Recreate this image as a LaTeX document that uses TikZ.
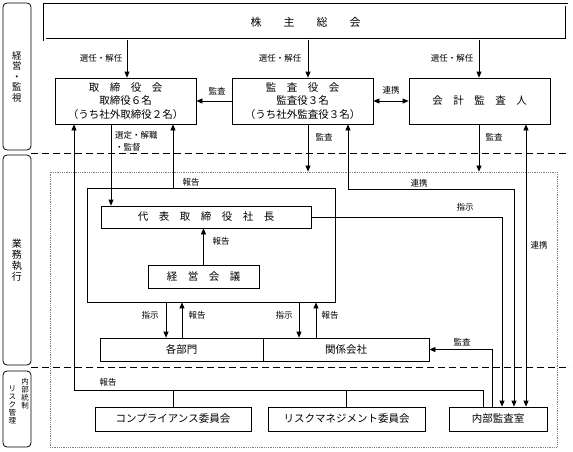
\documentclass[tikz,border=0pt]{standalone}
\usepackage{fontspec}
\setmainfont{Noto Sans CJK JP}
\usetikzlibrary{arrows.meta, positioning}

\tikzset{
  box/.style={draw, rectangle, line width=0.7pt, inner sep=0pt, align=center, font=\fontsize{10.5}{13.5}\selectfont},
  side/.style={draw, rectangle, rounded corners=4pt, line width=0.8pt, inner sep=0pt, align=center, font=\fontsize{9.5}{10.5}\selectfont},
  lbl/.style={inner sep=0pt, font=\fontsize{8.5}{12}\selectfont},
  arr/.style={-{Triangle[length=6pt,width=5pt]}, line width=0.7pt},
  darr/.style={{Triangle[length=6pt,width=5pt]}-{Triangle[length=6pt,width=5pt]}, line width=0.7pt},
  ln/.style={line width=0.7pt},
  sepline/.style={dash pattern=on 7pt off 4pt, line width=0.7pt}
}

\begin{document}
\begin{tikzpicture}[x=1pt, y=-1pt]
  \useasboundingbox (0,0) rectangle (573,451);

  % side labels
  \node (side1) at (17,76.5) [side, minimum width=28, minimum height=147] {経\\営\\・\\監\\視};
  \node (side2) at (17,260) [side, minimum width=28, minimum height=210, font=\fontsize{10}{11}\selectfont] {業\\務\\執\\行};
  \node (side3) at (17,409) [side, minimum width=28, minimum height=76] {};
  \node (side3a) at (25,394) [lbl, align=center, font=\fontsize{7.5}{8}\selectfont] {内\\部\\統\\制};
  \node (side3b) at (12.5,405) [lbl, align=center, font=\fontsize{7.5}{8}\selectfont] {リ\\ス\\ク\\管\\理};

  \draw[sepline] (31,153) -- (570,153);
  \draw[sepline] (31,367) -- (570,367);

  % boxes
  \node (kabu) at (305.5,22) [box, double, line width=0.6pt, double distance=2pt, minimum width=522, minimum height=35, font=\fontsize{11}{13}\selectfont] {株　　主　　総　　会};
  \node (tori) at (125.5,101) [box, minimum width=141, minimum height=46] {取　締　役　会\\取締役６名\\（うち社外取締役２名）};
  \node (kansa) at (302.5,101) [box, minimum width=141, minimum height=46] {監　査　役　会\\監査役３名\\（うち社外監査役３名）};
  \node (kaikei) at (479.5,101) [box, minimum width=141, minimum height=46] {会　計　監　査　人};

  \node (waku) at (303.5,309.5) [draw, rectangle, densely dotted, gray, line width=0.8pt, minimum width=507, minimum height=275] {};
  \node (exec) at (211,245) [box, minimum width=248, minimum height=114] {};
  \node (shacho) at (206,217) [box, minimum width=210, minimum height=22] {代　表　取　締　役　社　長};
  \node (kaigi) at (203.5,276.5) [box, minimum width=111, minimum height=23] {経　営　会　議};
  \node (bumon) at (181.5,349.5) [box, minimum width=163, minimum height=23] {各部門};
  \node (kankei) at (346,349.5) [box, minimum width=166, minimum height=23] {関係会社};
  \node (comp) at (173,419) [box, minimum width=156, minimum height=24] {コンプライアンス委員会};
  \node (risk) at (346.5,419) [box, minimum width=157, minimum height=24] {リスクマネジメント委員会};
  \node (naibu) at (498,419) [box, minimum width=98, minimum height=24] {内部監査室};

  % columns
  \coordinate (s1) at (127,0);
  \coordinate (s2) at (308,0);
  \coordinate (s3) at (479,0);
  \coordinate (k1) at (74,390);
  \coordinate (k2) at (111,0);
  \coordinate (k3) at (173,0);
  \coordinate (r1) at (348,189);
  \coordinate (r2) at (514,0);
  \coordinate (t1) at (502,0);
  \coordinate (a1) at (492,0);
  \coordinate (a2) at (483,0);
  \coordinate (a3) at (526,0);
  \coordinate (b1) at (166,0);
  \coordinate (b2) at (182,0);
  \coordinate (b3) at (299,0);
  \coordinate (b4) at (316,0);

  % connectors
  \draw[arr] (kabu.south -| s1) -- (tori.north -| s1);
  \draw[arr] (kabu.south -| s2) -- (kansa.north -| s2);
  \draw[arr] (kabu.south -| s3) -- (kaikei.north -| s3);
  \draw[arr] (kansa.west) -- (tori.east);
  \draw[darr] (kansa.east) -- (kaikei.west);
  \draw[arr] (tori.south -| k2) -- (shacho.north -| k2);
  \draw[arr] (exec.north -| k3) -- (tori.south -| k3);
  \draw[arr] (kansa.south -| s2) -- (waku.north -| s2);
  \draw[arr] (kaikei.south -| s3) -- (waku.north -| s3);
  \draw[darr] (kansa.south -| r1) |- (r2 |- r1) -- (naibu.north -| r2);
  \draw[arr] (shacho.east) -| (naibu.north -| t1);
  \draw[darr] (kaikei.south -| a3) -- (naibu.north -| a3);
  \draw[arr] (kaigi.north) -- (shacho.south -| kaigi.north);
  \draw[arr] (exec.south -| b1) -- (bumon.north -| b1);
  \draw[arr] (bumon.north -| b2) -- (exec.south -| b2);
  \draw[arr] (exec.south -| b3) -- (kankei.north -| b3);
  \draw[arr] (kankei.north -| b4) -- (exec.south -| b4);
  \draw[arr] (naibu.north -| a1) |- (kankei.east);
  \draw[arr] (naibu.north -| a2) |- (k1) -- (tori.south -| k1);
  \draw[ln] (comp.north) -- (comp.north |- k1);
  \draw[ln] (risk.north) -- (risk.north |- k1);

  % labels
  \node (l1) at (101,58) [lbl] {選任・解任};
  \node (l2) at (280,58) [lbl] {選任・解任};
  \node (l3) at (452,58) [lbl] {選任・解任};
  \node (l4) at (217,91) [lbl] {監査};
  \node (l5) at (391,90) [lbl] {連携};
  \node (l6) at (115,141) [lbl, anchor=west, align=left] {選定・解職\\・監督};
  \node (l7) at (324,137) [lbl] {監査};
  \node (l8) at (494,137) [lbl] {監査};
  \node (l9) at (191,182) [lbl] {報告};
  \node (l10) at (419,183) [lbl] {連携};
  \node (l11) at (465,207) [lbl] {指示};
  \node (l12) at (539,245) [lbl] {連携};
  \node (l13) at (221,241) [lbl] {報告};
  \node (l14) at (150,315) [lbl] {指示};
  \node (l15) at (197,315) [lbl] {報告};
  \node (l16) at (284,315) [lbl] {指示};
  \node (l17) at (330,315) [lbl] {報告};
  \node (l18) at (462,342) [lbl] {監査};
  \node (l19) at (108,382) [lbl] {報告};
\end{tikzpicture}
\end{document}
